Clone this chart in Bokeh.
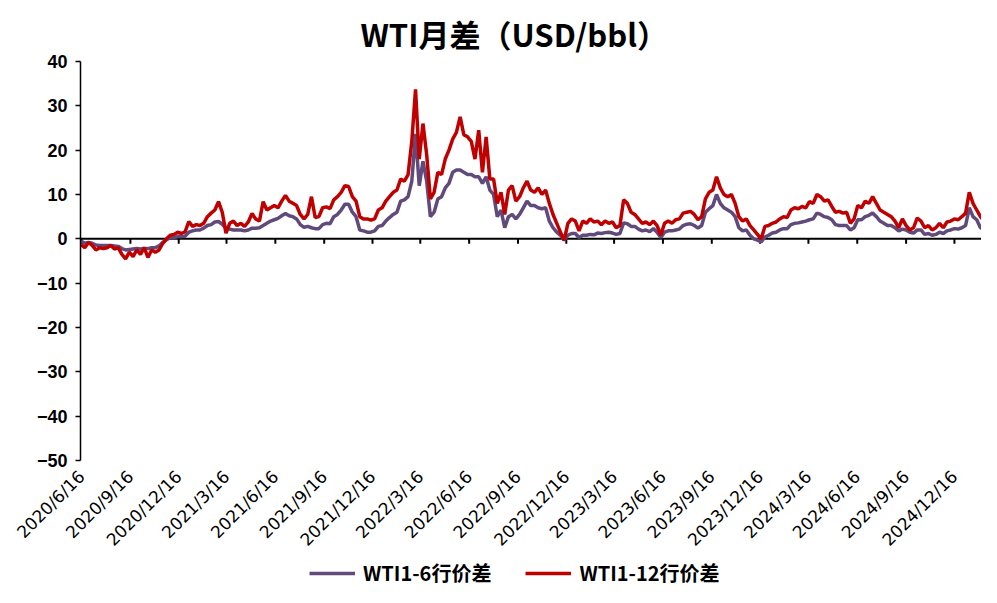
import pandas as pd
from math import pi
from bokeh.plotting import figure
from bokeh.layouts import column
from bokeh.models import Range1d, FixedTicker, Legend, LegendItem, ColumnDataSource, Span
from bokeh.embed import file_html
from bokeh.resources import INLINE

# ---- data (weekly readings, USD/bbl) ----
start_date = "2020-06-15"

spread_1_6_2020 = [-0.5, -1.0, -0.8, -1.0, -1.4, -1.5, -1.5, -1.5, -1.5, -1.6, -1.7, -2.2, -2.5, -2.4,
                   -2.3, -2.2, -2.3, -2.2, -2.2, -2.0, -2.0, -1.6, -0.8, -0.2, 0.3, 0.3, 0.5, 0.5, 0.6]
spread_1_6_2021 = [1.5, 1.8, 2.0, 2.0, 2.4, 3.0, 3.2, 3.8, 3.9, 3.3, 2.4, 2.2, 2.0, 2.0, 2.0, 1.8, 2.0,
                   2.4, 2.4, 2.5, 3.0, 3.5, 4.0, 4.3, 4.6, 5.2, 5.7, 5.2, 5.0, 4.5, 3.2, 2.6, 2.8, 2.5,
                   2.3, 2.3, 3.2, 3.5, 3.4, 5.0, 5.5, 6.5, 7.8, 7.8, 6.0, 5.0, 2.0, 1.8, 1.5, 1.5, 1.8, 2.8]
spread_1_6_2022 = [3.0, 4.0, 4.8, 5.5, 6.0, 8.5, 8.8, 9.5, 13.0, 23.7, 12.0, 17.5, 13.0, 5.0, 6.0, 9.0,
                   9.5, 11.5, 12.5, 15.0, 15.5, 15.5, 15.0, 14.5, 14.5, 14.0, 14.0, 12.5, 14.0, 11.0,
                   10.0, 5.0, 6.5, 2.5, 5.0, 5.5, 4.5, 5.5, 7.0, 8.5, 7.5, 7.5, 7.0, 6.8, 7.0, 4.0,
                   2.5, 1.5, 0.8, -0.3, 0.8, 1.2]
spread_1_6_2023 = [1.2, 0.3, 0.8, 0.8, 1.0, 0.9, 1.3, 1.2, 1.4, 1.5, 1.3, 1.0, 1.2, 3.6, 3.4, 2.8, 2.8,
                   2.2, 1.8, 2.0, 1.6, 2.3, 1.5, 0.3, 1.5, 1.8, 1.8, 2.0, 2.2, 3.0, 3.3, 3.4, 3.0, 2.4,
                   3.0, 6.0, 6.8, 7.5, 10.0, 8.0, 7.0, 6.5, 6.0, 5.0, 2.5, 1.8, 2.0, 0.8, 0.0, -0.3,
                   -0.7, 0.4]
spread_1_6_2024 = [0.8, 1.3, 1.5, 2.0, 2.3, 2.3, 3.2, 3.5, 3.6, 3.8, 4.0, 4.3, 4.5, 5.8, 5.5, 5.0, 4.8,
                   4.3, 3.2, 3.0, 3.0, 3.0, 2.0, 2.5, 4.3, 4.3, 5.0, 5.3, 5.8, 5.0, 4.0, 3.5, 3.0, 3.0,
                   2.5, 1.8, 2.2, 2.0, 1.5, 1.3, 2.0, 2.0, 1.0, 1.2, 0.8, 1.0, 1.5, 1.2, 1.8, 2.0, 2.3,
                   2.2, 2.5]
spread_1_6_2025 = [3.0, 7.0, 5.0, 4.3, 2.5, 2.3, 2.0]

spread_1_12_2020 = [-1.3, -2.0, -0.8, -1.5, -2.5, -2.0, -2.2, -2.0, -1.5, -2.3, -2.0, -3.5, -4.5, -3.0,
                    -4.0, -2.5, -3.5, -2.0, -4.2, -2.5, -3.0, -2.5, -1.0, 0.0, 0.8, 1.0, 1.5, 1.2, 1.6]
spread_1_12_2021 = [3.9, 2.8, 3.2, 3.0, 3.5, 5.0, 5.8, 6.5, 8.4, 6.0, 1.3, 3.5, 4.0, 3.0, 3.5, 2.8, 3.8,
                    5.7, 4.5, 4.0, 8.4, 6.5, 7.0, 7.5, 7.0, 8.5, 9.8, 8.5, 8.0, 7.5, 5.5, 4.5, 5.5, 9.5,
                    4.8, 5.0, 7.0, 7.2, 6.8, 8.8, 9.5, 10.5, 12.0, 11.8, 9.5, 8.5, 5.0, 4.5, 4.5, 4.2,
                    4.5, 6.5]
spread_1_12_2022 = [7.0, 8.5, 9.5, 10.5, 11.0, 13.5, 13.0, 14.5, 22.0, 33.7, 18.0, 26.0, 19.0, 9.0,
                    10.5, 15.0, 14.5, 18.0, 20.0, 22.5, 24.0, 27.5, 23.5, 23.0, 22.0, 18.0, 24.5, 15.0,
                    23.0, 13.5, 13.5, 8.0, 10.5, 5.5, 11.0, 12.0, 8.5, 9.5, 11.5, 13.0, 11.0, 10.5,
                    11.5, 10.0, 11.0, 8.0, 5.5, 3.5, 1.5, -0.3, 3.5, 4.5]
spread_1_12_2023 = [4.0, 1.8, 4.0, 3.5, 4.5, 3.8, 4.0, 3.2, 4.0, 3.5, 3.8, 2.5, 3.0, 8.8, 8.0, 6.0, 5.5,
                    4.5, 3.5, 3.8, 3.2, 4.0, 3.0, 0.8, 3.5, 4.0, 3.5, 4.3, 4.5, 5.8, 6.0, 6.2, 5.5, 4.3,
                    5.0, 9.0, 10.5, 11.0, 14.0, 11.5, 10.0, 9.5, 10.0, 8.0, 5.0, 4.0, 4.5, 3.0, 2.0,
                    1.0, 0.0, 2.8]
spread_1_12_2024 = [3.0, 3.5, 3.8, 4.5, 5.0, 4.8, 6.5, 7.0, 6.8, 7.3, 7.0, 8.4, 8.0, 10.0, 9.5, 8.5,
                    8.8, 7.3, 6.0, 6.2, 5.8, 6.0, 3.5, 4.5, 7.5, 7.0, 8.5, 8.0, 9.5, 8.0, 6.5, 6.0, 5.5,
                    5.0, 4.0, 2.5, 4.5, 3.0, 2.0, 2.5, 4.7, 4.0, 2.5, 3.0, 2.0, 2.5, 3.5, 2.5, 3.8, 4.0,
                    4.5, 4.3, 5.0]
spread_1_12_2025 = [5.8, 10.5, 8.0, 6.5, 5.0, 4.0, 4.5]

spread_1_6 = (spread_1_6_2020 + spread_1_6_2021 + spread_1_6_2022 + spread_1_6_2023
              + spread_1_6_2024 + spread_1_6_2025)
spread_1_12 = (spread_1_12_2020 + spread_1_12_2021 + spread_1_12_2022 + spread_1_12_2023
               + spread_1_12_2024 + spread_1_12_2025)
dates = pd.date_range(start_date, periods=len(spread_1_6), freq="7D")

x_tick_labels = ["2020/6/16", "2020/9/16", "2020/12/16", "2021/3/16", "2021/6/16", "2021/9/16",
                 "2021/12/16", "2022/3/16", "2022/6/16", "2022/9/16", "2022/12/16", "2023/3/16",
                 "2023/6/16", "2023/9/16", "2023/12/16", "2024/3/16", "2024/6/16", "2024/9/16",
                 "2024/12/16"]
y_ticks = [-50, -40, -30, -20, -10, 0, 10, 20, 30, 40]
y_tick_labels = ["\u221250", "\u221240", "\u221230", "\u221220", "\u221210", "0", "10", "20", "30", "40"]

title_text = "WTI月差（USD/bbl）"
series_names = ["WTI1-6行价差", "WTI1-12行价差"]
series_colors = ["#604A7B", "#C00000"]

# ---- layout constants ----
W = 981
LEG_H = 28
MAIN_H = 587 - LEG_H
TOP, BOTTOM, LEFT = 61, 98, 80
Y_MIN, Y_MAX = -50, 40
TICK_PX = 5

x_start = pd.Timestamp("2020-06-14")
x_end = pd.Timestamp("2025-02-05")

p = figure(width=W, height=MAIN_H, x_axis_type="datetime", output_backend="svg",
           toolbar_location=None, x_range=Range1d(x_start, x_end), y_range=Range1d(Y_MIN, Y_MAX),
           min_border_left=LEFT, min_border_right=0, min_border_top=TOP, min_border_bottom=BOTTOM)
p.outline_line_color = None
p.grid.visible = False
p.background_fill_color = "white"
p.border_fill_color = "white"

p.title.text = title_text
p.title.align = "left"
p.title.offset = 280
p.title.standoff = 12
p.title.text_font = "Noto Sans CJK SC"
p.title.text_font_style = "bold"
p.title.text_font_size = "31px"
p.title.text_color = "black"

tick_dates = [pd.to_datetime(s, format="%Y/%m/%d") for s in x_tick_labels]
tick_ms = [int(d.value // 10**6) for d in tick_dates]

xa = p.xaxis[0]
xa.ticker = FixedTicker(ticks=tick_ms)
xa.major_label_overrides = {t: s for t, s in zip(tick_ms, x_tick_labels)}
xa.axis_line_color = None
xa.major_tick_line_color = None
xa.minor_tick_line_color = None
xa.major_tick_out = 0
xa.major_tick_in = 0
xa.major_label_orientation = pi / 4
xa.major_label_text_font = "DejaVu Sans"
xa.major_label_text_font_size = "17px"
xa.major_label_text_color = "black"
xa.major_label_standoff = 13

ya = p.yaxis[0]
ya.ticker = FixedTicker(ticks=y_ticks)
ya.major_label_overrides = {v: s for v, s in zip(y_ticks, y_tick_labels)}
ya.axis_line_color = "black"
ya.axis_line_width = 1.5
ya.major_tick_line_color = "black"
ya.major_tick_line_width = 1.5
ya.major_tick_out = 5
ya.major_tick_in = 0
ya.minor_tick_line_color = None
ya.major_label_text_font = "Liberation Sans"
ya.major_label_text_font_style = "bold"
ya.major_label_text_font_size = "18px"
ya.major_label_text_color = "black"
ya.major_label_standoff = 8

# horizontal axis line through zero with downward ticks
zero_line = Span(location=0, dimension="width", line_color="black", line_width=2, level="underlay")
p.add_layout(zero_line)
tick_len = TICK_PX * (Y_MAX - Y_MIN) / (MAIN_H - TOP - BOTTOM)
p.segment(x0=tick_dates, y0=[0] * len(tick_dates), x1=tick_dates, y1=[-tick_len] * len(tick_dates),
          line_color="black", line_width=2)

src = ColumnDataSource(dict(date=dates, s16=spread_1_6, s112=spread_1_12))
p.line("date", "s16", source=src, line_color=series_colors[0], line_width=3.5)
p.line("date", "s112", source=src, line_color=series_colors[1], line_width=3.5)

# ---- legend strip (its frame is aligned with the main frame, starting at x = LEFT) ----
pl = figure(width=W, height=LEG_H, output_backend="svg", toolbar_location=None,
            x_range=Range1d(0, 1), y_range=Range1d(0, 1), x_axis_location=None,
            y_axis_location=None, min_border=0)
pl.outline_line_color = None
pl.grid.visible = False
pl.border_fill_color = "white"
# placeholder renderers kept outside the visible range; they only carry the legend styling
l1 = pl.line(x=[0, 1], y=[5, 5], line_color=series_colors[0], line_width=3.5)
l2 = pl.line(x=[0, 1], y=[5, 5], line_color=series_colors[1], line_width=3.5)
legend = Legend(items=[LegendItem(label=series_names[0], renderers=[l1]),
                       LegendItem(label=series_names[1], renderers=[l2])],
                orientation="horizontal", location=(309 - LEFT, 0),
                glyph_width=46, glyph_height=26, label_standoff=8, spacing=34,
                padding=0, margin=0, border_line_color=None, background_fill_alpha=0,
                label_text_font="Noto Sans CJK SC", label_text_font_style="bold",
                label_text_font_size="20px", label_text_color="black")
pl.add_layout(legend)

layout = column(p, pl, spacing=0)
open("out.html", "w").write(file_html(layout, INLINE))
